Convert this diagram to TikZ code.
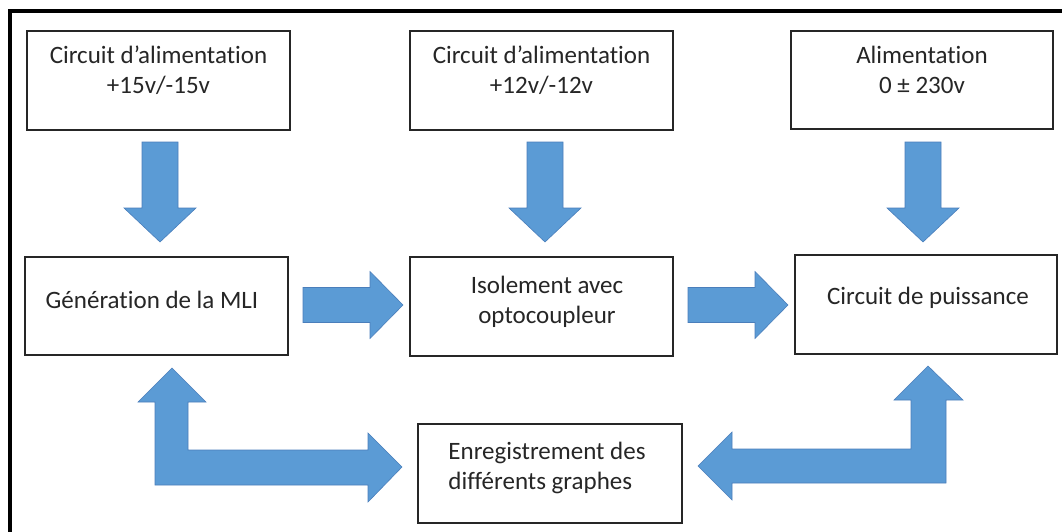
\documentclass[tikz,border=0pt]{standalone}
\usepackage{fontspec}
\setmainfont[RawFeature={-liga;-clig;-calt;-dlig;-rlig}]{Carlito}
\definecolor{arrowfill}{HTML}{5B9BD5}
\definecolor{arrowedge}{HTML}{4A7EBB}
\definecolor{txt}{HTML}{262626}
\tikzset{
  box/.style={draw=black!85, line width=1.3pt, fill=white, inner sep=0pt},
  lbl/.style={inner sep=0pt, align=center, text=txt, font=\fontsize{25}{30}\selectfont},
  blockarrow/.style={fill=arrowfill, draw=arrowedge, line width=0.6pt, line join=miter}
}
\begin{document}
\begin{tikzpicture}[x=1pt,y=-1pt]
\useasboundingbox (0,0) rectangle (1062,532);
% frame
\draw[line width=4pt] (9.5,532) -- (9.5,11) -- (1062,11);
% boxes
\node[box, minimum width=263pt, minimum height=99pt] (b1) at (158.5,80.5) {};
\node[box, minimum width=263pt, minimum height=99pt] (b2) at (541.5,80.5) {};
\node[box, minimum width=262pt, minimum height=98pt] (b3) at (922,80) {};
\node[box, minimum width=263pt, minimum height=98pt] (b4) at (156.5,306) {};
\node[box, minimum width=263pt, minimum height=99pt] (b5) at (541.5,306.5) {};
\node[box, minimum width=262pt, minimum height=99pt] (b6) at (926,304.5) {};
\node[box, minimum width=264pt, minimum height=99pt] (b7) at (550,473.5) {};
% labels
\node[lbl] (t1) at (158.5,70) {Circuit d’alimentation\\+15v/-15v};
\node[lbl] (t2) at (541.5,70) {Circuit d’alimentation\\+12v/-12v};
\node[lbl] (t3) at (922,70) {Alimentation\\0 ± 230v};
\node[lbl] (t4) at (152,300) {Génération de la MLI};
\node[lbl] (t5) at (547,302) {Isolement avec\\optocoupleur};
\node[lbl] (t6) at (928,298) {Circuit de puissance};
\node[lbl, align=left] (t7) at (547,468) {Enregistrement des\\différents graphes};
% down arrows
\foreach \cx in {160,545,923}{
  \draw[blockarrow] (\cx-18,142) -- (\cx+18,142) -- (\cx+18,208) -- (\cx+36,208)
    -- (\cx,242) -- (\cx-36,208) -- (\cx-18,208) -- cycle;
}
% right arrows
\foreach \sx in {303,688}{
  \draw[blockarrow] (\sx,287.5) -- (\sx+67,287.5) -- (\sx+67,271.5) -- (\sx+100,305)
    -- (\sx+67,338.5) -- (\sx+67,322.5) -- (\sx,322.5) -- cycle;
}
% bent arrows
\draw[blockarrow] (155,485) -- (155,402) -- (138,402) -- (172,368) -- (206,402)
  -- (188,402) -- (188,450) -- (368,450) -- (368,433) -- (402,467) -- (368,502)
  -- (368,485) -- cycle;
\draw[blockarrow] (946,483) -- (946,400) -- (963,400) -- (928,366) -- (894,400)
  -- (911,400) -- (911,449) -- (732,449) -- (732,432) -- (698,466) -- (732,500)
  -- (732,483) -- cycle;
\end{tikzpicture}
\end{document}
